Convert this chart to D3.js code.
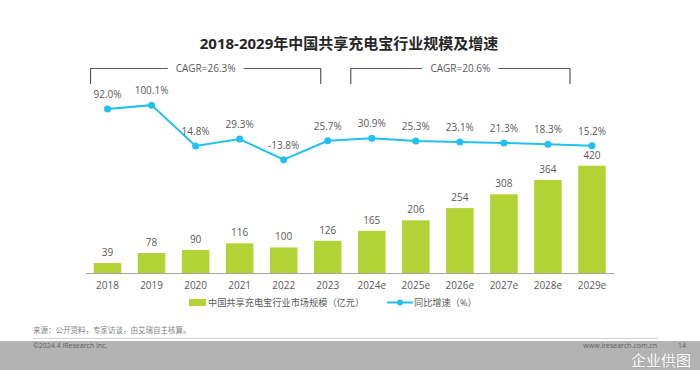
<!DOCTYPE html>
<html><head><meta charset="utf-8">
<script src="https://cdn.jsdelivr.net/npm/d3@7"></script>
<style>
html,body{margin:0;padding:0;background:#fff;}
svg{display:block;}
text{font-family:"Open Sans","Noto Sans CJK SC",sans-serif;}
</style></head>
<body>
<svg id="c" width="700" height="370"></svg>
<script>
const categories = ["2018","2019","2020","2021","2022","2023","2024e","2025e","2026e","2027e","2028e","2029e"];
const marketSize = [39,78,90,116,100,126,165,206,254,308,364,420];
const growthRate = [92.0,100.1,14.8,29.3,-13.8,25.7,30.9,25.3,23.1,21.3,18.3,15.2];
const growthLabels = ["92.0%","100.1%","14.8%","29.3%","-13.8%","25.7%","30.9%","25.3%","23.1%","21.3%","18.3%","15.2%"];
const cagrLabels = ["CAGR=26.3%","CAGR=20.6%"];
const cagrSpans = [["2018","2023"],["2024e","2029e"]];
const title = "2018-2029年中国共享充电宝行业规模及增速";
const legendLabels = ["中国共享充电宝行业市场规模（亿元）","同比增速（%）"];
const sourceText = "来源：公开资料，专家访谈，由艾瑞自主核算。";

const barColor = "#b2d235", lineColor = "#21c1ef", textColor = "#595959";
const svg = d3.select("#c");

const x = d3.scaleBand().domain(categories).range([85.5, 614]).paddingInner(0.375).paddingOuter(0.1875);
const yBar = d3.scaleLinear().domain([0, 450]).range([273, 158]);
const yLine = d3.scaleLinear().domain([-30, 120]).range([167.5, 95.6]);

// title
svg.append("text").attr("x", 349).attr("y", 49).attr("text-anchor", "middle")
  .attr("font-size", 15).attr("font-weight", "bold").attr("fill", "#262626").text(title);

// bars
svg.append("g").selectAll("rect").data(marketSize).join("rect")
  .attr("x", (d,i) => x(categories[i])).attr("width", x.bandwidth())
  .attr("y", d => yBar(d)).attr("height", d => yBar(0) - yBar(d)).attr("fill", barColor);
svg.append("g").selectAll("text").data(marketSize).join("text")
  .attr("x", (d,i) => x(categories[i]) + x.bandwidth()/2).attr("y", d => yBar(d) - 7)
  .attr("text-anchor", "middle").attr("font-size", 10).attr("fill", textColor).text(d => d);

// axis
const ax = svg.append("g").attr("transform", `translate(0,${yBar(0)})`)
  .call(d3.axisBottom(x).tickSize(0).tickPadding(9));
ax.select(".domain").attr("stroke", "#a6a6a6");
ax.selectAll("text").attr("font-size", 10).attr("fill", textColor)
  .attr("font-family", '"Open Sans","Noto Sans CJK SC",sans-serif');

// line
const cx = (d,i) => x(categories[i]) + x.bandwidth()/2;
const line = d3.line().x(cx).y(d => yLine(d));
svg.append("path").datum(growthRate).attr("d", line).attr("fill", "none")
  .attr("stroke", lineColor).attr("stroke-width", 2);
svg.append("g").selectAll("circle").data(growthRate).join("circle")
  .attr("cx", cx).attr("cy", d => yLine(d)).attr("r", 3.5).attr("fill", lineColor);
svg.append("g").selectAll("text").data(growthRate).join("text")
  .attr("x", cx).attr("y", d => yLine(d) - 11)
  .attr("text-anchor", "middle").attr("font-size", 10).attr("fill", textColor)
  .text((d,i) => growthLabels[i]);

// CAGR brackets
const bracketOffsets = [[-17, -7], [-21, -22]];
cagrSpans.forEach((s, k) => {
  const x0 = x(s[0]) + x.bandwidth()/2 + bracketOffsets[k][0];
  const x1 = x(s[1]) + x.bandwidth()/2 + bracketOffsets[k][1];
  const mid = (x0 + x1)/2, top = 68.5, bot = 84, half = 38;
  const g = svg.append("g").attr("stroke", "#595959").attr("stroke-width", 1.2).attr("fill", "none");
  g.append("path").attr("d", `M${x0},${bot}V${top}H${mid-half}`);
  g.append("path").attr("d", `M${mid+half},${top}H${x1}V${bot}`);
  svg.append("text").attr("x", mid).attr("y", 72).attr("text-anchor", "middle")
    .attr("font-size", 10).attr("fill", textColor).text(cagrLabels[k]);
});

// legend
const lg = svg.append("g");
lg.append("rect").attr("x", 189).attr("y", 299).attr("width", 17).attr("height", 7).attr("fill", barColor);
lg.append("text").attr("x", 208).attr("y", 305.5).attr("font-size", 9.2).attr("fill", textColor).text(legendLabels[0]);
lg.append("line").attr("x1", 387).attr("x2", 413).attr("y1", 302.5).attr("y2", 302.5).attr("stroke", lineColor).attr("stroke-width", 2);
lg.append("circle").attr("cx", 400).attr("cy", 302.5).attr("r", 3).attr("fill", lineColor);
lg.append("text").attr("x", 414).attr("y", 305.5).attr("font-size", 9.2).attr("fill", textColor).text(legendLabels[1]);

// source & footer
svg.append("text").attr("x", 33).attr("y", 333).attr("font-size", 7.5).attr("fill", "#7f7f7f").text(sourceText);
svg.append("line").attr("x1", 33).attr("x2", 658).attr("y1", 338.5).attr("y2", 338.5).attr("stroke", "#d0d0d0").attr("stroke-width", 1);
svg.append("rect").attr("x", 0).attr("y", 341).attr("width", 700).attr("height", 29).attr("fill", "#b3b3b3");
svg.append("text").attr("x", 33).attr("y", 348).attr("font-size", 7).attr("fill", "#5e5e5e").text("©2024.4 iResearch Inc.");
svg.append("text").attr("x", 657).attr("y", 348).attr("text-anchor", "end").attr("font-size", 7).attr("fill", "#5e5e5e").text("www.iresearch.com.cn");
svg.append("text").attr("x", 678).attr("y", 348).attr("font-size", 7).attr("fill", "#5e5e5e").text("14");
svg.append("text").attr("x", 691).attr("y", 366).attr("text-anchor", "end").attr("font-size", 15).attr("fill", "#ffffff")
  .attr("font-family", '"Noto Sans CJK SC",sans-serif').style("paint-order", "stroke").attr("stroke", "#9a9a9a").attr("stroke-width", 0.6).text("企业供图");
</script>
</body></html>
